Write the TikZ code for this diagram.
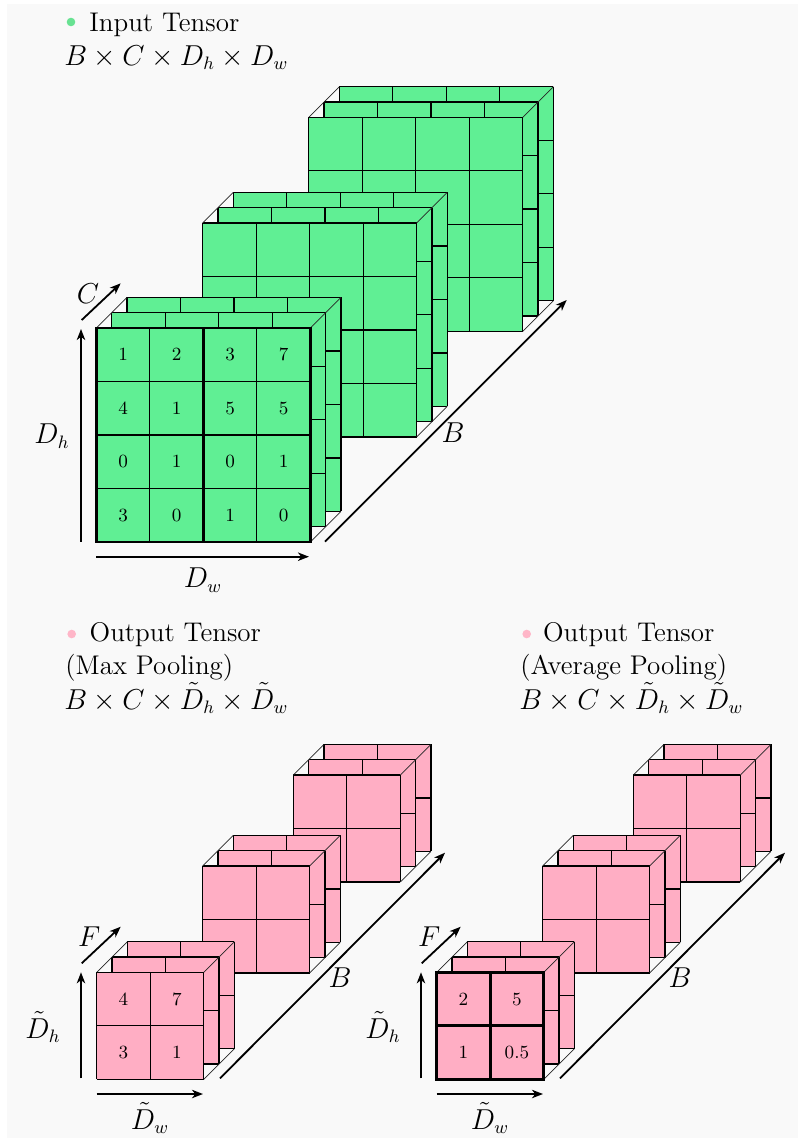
\documentclass[tikz,border=0pt]{standalone}
\usetikzlibrary{arrows.meta}

\definecolor{cubegreen}{RGB}{96,239,148}
\definecolor{cubepink}{RGB}{255,174,196}
\definecolor{dotgreen}{RGB}{104,226,146}
\definecolor{dotpink}{RGB}{255,182,200}
\definecolor{paper}{RGB}{249,249,249}

\newcommand{\cellsz}{53.5}
\newcommand{\layershift}{15.3}

% one channel slice: top-left x, top-left y, columns, rows, fill colour
\newcommand{\cubelayer}[5]{%
  \fill[#5] (#1,#2) rectangle ({#1+#3*\cellsz},{#2+#4*\cellsz});
  \foreach \k in {0,...,#3}
    \draw[cellline] ({#1+\k*\cellsz},#2) -- ({#1+\k*\cellsz},{#2+#4*\cellsz});
  \foreach \k in {0,...,#4}
    \draw[cellline] (#1,{#2+\k*\cellsz}) -- ({#1+#3*\cellsz},{#2+\k*\cellsz});
}

% three stacked channel slices with the edges of their bounding box
\newcommand{\cubestack}[5]{%
  \cubelayer{#1+2*\layershift}{#2-2*\layershift}{#3}{#4}{#5}
  \cubelayer{#1+\layershift}{#2-\layershift}{#3}{#4}{#5}
  \cubelayer{#1}{#2}{#3}{#4}{#5}
  \draw[wireline] (#1,#2) -- ++({2*\layershift},{-2*\layershift});
  \draw[wireline] ({#1+#3*\cellsz},#2) -- ++({2*\layershift},{-2*\layershift});
  \draw[wireline] ({#1+#3*\cellsz},{#2+#4*\cellsz}) -- ++({2*\layershift},{-2*\layershift});
}

\tikzset{
  cellline/.style={draw=black, line width=0.6pt},
  wireline/.style={draw=black!85, line width=0.35pt},
  poolline/.style={draw=black, line width=1.4pt, line cap=rect},
  axisarrow/.style={draw=black, line width=0.9pt, -{Stealth[length=5.5pt,width=4.2pt,inset=1.6pt]}},
  num/.style={inner sep=0pt, font=\fontsize{9.3}{11}\selectfont},
  lbl/.style={inner sep=0pt, font=\fontsize{13.5}{16}\selectfont},
  txt/.style={inner sep=0pt, anchor=base west, font=\fontsize{13.5}{16}\selectfont},
  bullet/.style={circle, inner sep=0pt, minimum size=4.3pt},
}

\begin{document}
\begin{tikzpicture}[x=0.5pt, y=-0.5pt]
  \useasboundingbox (0,0) rectangle (805,1142);
  \fill[paper] (7,4) rectangle (798,1138);

  % ---------------- input tensor ----------------
  \node[bullet, fill=dotgreen] (inDot) at (71,22) {};
  \node[txt] (inTitle) at (89,31) {Input Tensor};
  \node[txt] (inShape) at (64,65) {$B\times C\times D_h\times D_w$};

  \cubestack{308.7}{117.3}{4}{4}{cubegreen}
  \cubestack{202.7}{223}{4}{4}{cubegreen}
  \cubestack{96.3}{328}{4}{4}{cubegreen}

  % 2x2 pooling windows on the front slice
  \draw[poolline] (96.3,328) rectangle ({96.3+4*\cellsz},{328+4*\cellsz});
  \draw[poolline] ({96.3+2*\cellsz},328) -- ({96.3+2*\cellsz},{328+4*\cellsz});
  \draw[poolline] (96.3,{328+2*\cellsz}) -- ({96.3+4*\cellsz},{328+2*\cellsz});

  \foreach \r/\c/\v in {1/1/1,1/2/2,1/3/3,1/4/7,
                        2/1/4,2/2/1,2/3/5,2/4/5,
                        3/1/0,3/2/1,3/3/0,3/4/1,
                        4/1/3,4/2/0,4/3/1,4/4/0}
    \node[num] (in-\r-\c) at ({96.3+(\c-0.5)*\cellsz},{328+(\r-0.5)*\cellsz}) {\v};

  \coordinate (inCa) at (81.7,320);   \coordinate (inCb) at (120.7,283.3);
  \coordinate (inHa) at (81,541.7);   \coordinate (inHb) at (81,329);
  \coordinate (inWa) at (96,556.7);   \coordinate (inWb) at (309,556.7);
  \coordinate (inBa) at (325,541.7);  \coordinate (inBb) at (566.7,300);
  \draw[axisarrow] (inCa) -- (inCb);
  \draw[axisarrow] (inHa) -- (inHb);
  \draw[axisarrow] (inWa) -- (inWb);
  \draw[axisarrow] (inBa) -- (inBb);
  \node[lbl] (inClbl) at (88,294) {$C$};
  \node[lbl] (inHlbl) at (52,436) {$D_h$};
  \node[lbl] (inWlbl) at (203,580) {$D_w$};
  \node[lbl] (inBlbl) at (453,433) {$B$};

  % ---------------- max pooling output ----------------
  \node[bullet, fill=dotpink] (mxDot) at (71.7,634) {};
  \node[txt] (mxTitle) at (89.3,641) {Output Tensor};
  \node[txt] (mxSub) at (65,674) {(Max Pooling)};
  \node[txt] (mxShape) at (64,709) {$B\times C\times \tilde{D}_h\times \tilde{D}_w$};

  \cubestack{293.3}{775}{2}{2}{cubepink}
  \cubestack{202.7}{866}{2}{2}{cubepink}
  \cubestack{96.7}{972.3}{2}{2}{cubepink}

  \foreach \r/\c/\v in {1/1/4,1/2/7,2/1/3,2/2/1}
    \node[num] (mx-\r-\c) at ({96.7+(\c-0.5)*\cellsz},{972.3+(\r-0.5)*\cellsz}) {\v};

  \coordinate (mxFa) at (81.7,963.3);  \coordinate (mxFb) at (120.7,926.7);
  \coordinate (mxHa) at (81,1078.3);   \coordinate (mxHb) at (81,972.3);
  \coordinate (mxWa) at (96.7,1094);   \coordinate (mxWb) at (203,1094);
  \coordinate (mxBa) at (220,1078.3);  \coordinate (mxBb) at (445,852.7);
  \draw[axisarrow] (mxFa) -- (mxFb);
  \draw[axisarrow] (mxHa) -- (mxHb);
  \draw[axisarrow] (mxWa) -- (mxWb);
  \draw[axisarrow] (mxBa) -- (mxBb);
  \node[lbl] (mxFlbl) at (89.3,937) {$F$};
  \node[lbl] (mxHlbl) at (43,1027) {$\tilde{D}_h$};
  \node[lbl] (mxWlbl) at (150,1118) {$\tilde{D}_w$};
  \node[lbl] (mxBlbl) at (340,978) {$B$};

  % ---------------- average pooling output ----------------
  \node[bullet, fill=dotpink] (avDot) at (526.7,634) {};
  \node[txt] (avTitle) at (542.7,641) {Output Tensor};
  \node[txt] (avSub) at (520,674) {(Average Pooling)};
  \node[txt] (avShape) at (519,709) {$B\times C\times \tilde{D}_h\times \tilde{D}_w$};

  \cubestack{633.3}{775}{2}{2}{cubepink}
  \cubestack{542.7}{866}{2}{2}{cubepink}
  \cubestack{436.7}{972.3}{2}{2}{cubepink}

  \draw[poolline] (436.7,972.3) rectangle ({436.7+2*\cellsz},{972.3+2*\cellsz});
  \draw[poolline] ({436.7+\cellsz},972.3) -- ({436.7+\cellsz},{972.3+2*\cellsz});
  \draw[poolline] (436.7,{972.3+\cellsz}) -- ({436.7+2*\cellsz},{972.3+\cellsz});

  \foreach \r/\c/\v in {1/1/2,1/2/5,2/1/1,2/2/0.5}
    \node[num] (av-\r-\c) at ({436.7+(\c-0.5)*\cellsz},{972.3+(\r-0.5)*\cellsz}) {\v};

  \coordinate (avFa) at (421.7,963.3);  \coordinate (avFb) at (460.7,926.7);
  \coordinate (avHa) at (421,1078.3);   \coordinate (avHb) at (421,972.3);
  \coordinate (avWa) at (436.7,1094);   \coordinate (avWb) at (543,1094);
  \coordinate (avBa) at (560,1078.3);   \coordinate (avBb) at (785,852.7);
  \draw[axisarrow] (avFa) -- (avFb);
  \draw[axisarrow] (avHa) -- (avHb);
  \draw[axisarrow] (avWa) -- (avWb);
  \draw[axisarrow] (avBa) -- (avBb);
  \node[lbl] (avFlbl) at (429.3,937) {$F$};
  \node[lbl] (avHlbl) at (383,1027) {$\tilde{D}_h$};
  \node[lbl] (avWlbl) at (490,1118) {$\tilde{D}_w$};
  \node[lbl] (avBlbl) at (680,978) {$B$};
\end{tikzpicture}
\end{document}
